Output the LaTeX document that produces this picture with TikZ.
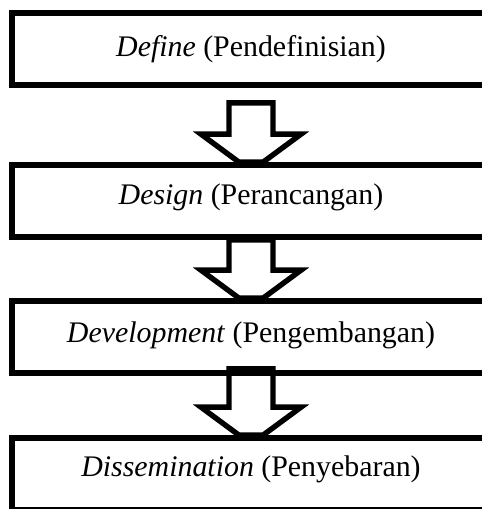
\documentclass[tikz,border=0pt]{standalone}
\usepackage{fontspec}
\setmainfont{Liberation Serif}
\usepackage{tikz}
\usetikzlibrary{positioning,calc}

\tikzset{
  stagebox/.style={draw, fill=white, line width=4.8pt, rectangle,
    minimum width=14.34cm, minimum height=2.16cm, inner sep=0pt,
    text height=17pt, font=\fontsize{25.5pt}{30pt}\selectfont},
  blockline/.style={line width=4.6pt, line join=miter}
}
% hollow block arrow, tip cut off at the top of the lower box
\newcommand{\blockdown}[3]{%
  \draw[blockline] ($(#1.south)+(-22,#3)$) |- ($(#2.north)+(-50,-28)$)
    -- ($(#2.north)+(-12,0)$) -- ($(#2.north)+(12,0)$)
    -- ($(#2.north)+(50,-28)$) -| ($(#1.south)+(22,#3)$) -- cycle;}

\begin{document}
\begin{tikzpicture}[x=0.03cm, y=-0.03cm]
	\useasboundingbox (0,0) rectangle (482,509);
	\clip (0,0) rectangle (482,509);
	\node[stagebox, text depth=5pt] (define) at (251,49) {\textit{Define} (Pendefinisian)};
	\node[stagebox, text depth=11pt] (design) at (251,201) {\textit{Design} (Perancangan)};
	\node[stagebox, text depth=7pt] (develop) at (251,337) {\textit{Development} (Pengembangan)};
	\node[stagebox, text depth=12.5pt] (dissem) at (251,474) {\textit{Dissemination} (Penyebaran)};
	\blockdown{define}{design}{15}
	\blockdown{design}{develop}{0}
	\blockdown{develop}{dissem}{-7}
\end{tikzpicture}
\end{document}
